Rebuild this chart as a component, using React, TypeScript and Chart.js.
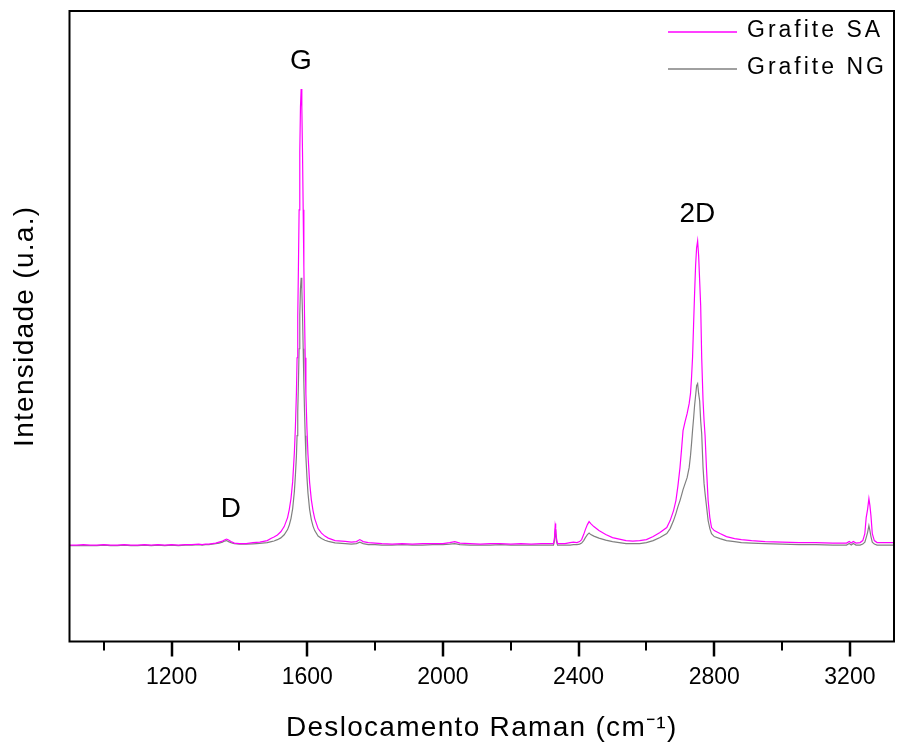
import React, { useEffect, useRef } from 'react';
import { Chart, registerables } from 'chart.js';

Chart.register(...registerables);

const FONT = "'Liberation Sans', Arial, sans-serif";

// Raman shift (cm-1)
const wavenumber = [
  899, 920, 940, 960, 980, 1000, 1020, 1040, 1060, 1080, 1100, 1120, 1140, 1160, 1180, 1200, 1220, 1240, 1260, 1280, 1290, 1300, 1310, 1320, 1330, 1340, 1350, 1356, 1362, 1368, 1375, 1385, 1400, 1420,
  1440, 1460, 1482, 1494, 1502, 1512, 1522, 1532, 1542, 1547, 1552, 1557, 1562, 1565, 1568, 1570, 1572, 1574, 1576, 1578, 1580, 1582, 1584, 1586, 1588, 1590, 1592, 1594, 1596, 1599, 1602, 1607, 1612, 1617, 1622, 1632, 1642, 1652, 1662, 1682, 1712, 1730, 1745, 1755, 1765, 1780, 1800,
  1820, 1850, 1880, 1910, 1940, 1970, 2000, 2020, 2035, 2050, 2080, 2110, 2140, 2170, 2200, 2230, 2260, 2290, 2315, 2326, 2329, 2331, 2332, 2333, 2335, 2338, 2360, 2375, 2385, 2395, 2403, 2409, 2415, 2420, 2426, 2431, 2436, 2445, 2460, 2480, 2500, 2520, 2540, 2560,
  2580, 2600, 2620, 2640, 2660, 2670, 2680, 2687, 2693, 2699, 2704, 2708, 2714, 2720, 2726, 2730, 2733, 2736, 2739, 2742, 2745, 2748, 2751, 2754, 2757, 2760, 2763, 2767, 2770, 2773, 2777, 2782, 2787, 2792, 2800, 2817, 2836, 2860, 2880, 2910, 2950,
  3000, 3050, 3100, 3150, 3190, 3198, 3204, 3210, 3218, 3230, 3238, 3244, 3248, 3252, 3256, 3259, 3262, 3266, 3272, 3280, 3300, 3330,
];

// Grafite SA intensity (u.a.)
const grafiteSA = [
  0.5, 0.5, 1, 0.5, 0.5, 1, 0.5, 0.5, 1, 0.5, 0.5, 1, 0.5, 1, 0.5, 1, 0.5, 1, 1, 1.5, 1, 1.5, 1.5, 2, 2.5, 3.5, 4.5, 5.5, 6.5, 5.5, 4, 2.5, 2, 2,
  3, 3.5, 5, 7.3, 8.5, 10.6, 13.8, 19, 28, 36, 47, 64, 93, 118, 152, 188, 229, 279, 336, 394, 439, 457, 439, 394, 336, 279, 229, 188, 152, 118, 92, 63, 46, 35, 27, 17, 12.5, 9.5, 7.5, 5, 4.2, 3.5, 4, 6, 4, 3, 2.5,
  2, 1.5, 2, 1.5, 2, 2, 2, 3, 4, 2.5, 2, 1.5, 2, 2, 1.5, 2, 1.5, 2, 2, 2, 8, 20, 22, 17, 7, 2, 2, 3, 3.5, 3, 4, 6, 11, 16, 21, 24, 22, 19, 15, 11, 8, 6.5, 5, 4.5,
  5, 6, 9, 13, 18, 25, 35, 45, 60, 78, 98, 115, 124, 132, 142, 152, 168, 188, 220, 252, 280, 298, 305, 290, 265, 240, 188, 145, 125, 110, 78, 45, 28, 18, 15, 12, 9, 7, 6, 5, 4,
  3.5, 3, 3, 2.5, 2.5, 4, 2.5, 4, 2.5, 3, 5, 12, 28, 36, 47, 40, 30, 12, 5, 3, 3, 3,
];

// Grafite NG intensity (u.a.)
const grafiteNG = [
  0, 0, 0, 0, 0, 0.5, 0, 0, 0.5, 0, 0, 0.5, 0, 0.5, 0, 0.5, 0, 0.5, 0.5, 1, 0.5, 1, 1, 1.5, 2, 2.5, 3.5, 4.5, 5, 4, 3, 2, 1.5, 1.5,
  1.8, 2.2, 3, 4, 4.6, 5.9, 7.7, 10.8, 16, 20.6, 27, 37, 54, 70, 89, 110, 134, 163, 197, 231, 257, 268, 257, 231, 197, 163, 134, 110, 89, 69, 53, 36, 26, 19.5, 15, 9.5, 7, 5.3, 4.2, 2.7, 2, 1.5, 2, 3.5, 2, 1, 1,
  0.5, 0.5, 1, 0.5, 0.5, 1, 1, 1.5, 2, 1, 0.5, 0.5, 0.5, 1, 0.5, 0.5, 0.5, 0.5, 0.5, 0.5, 5, 14, 16, 12, 4, 0.5, 0.5, 0.5, 1, 1, 1.5, 2.5, 5, 8, 11, 12.5, 11, 9.5, 7.5, 5.5, 4, 3, 2, 2,
  2, 3, 5, 8, 12, 17, 25, 32, 39, 45, 51, 56, 62, 68, 78, 90, 102, 115, 127, 140, 150, 160, 162, 152, 145, 125, 112, 78, 62, 52, 40, 25, 17, 12, 9, 7, 5, 4, 3, 2.5, 2,
  1.5, 1, 1, 0.5, 0.5, 2, 0.5, 2, 0.5, 0.5, 1.5, 3.5, 8, 13, 20, 15, 9, 3.5, 1.5, 0.5, 0.5, 0.5,
];

const seriesLabels = ['Grafite SA', 'Grafite NG'];
const seriesColors = ['#FF00FF', '#808080'];

// x-axis ticks: all tick marks, and the ones that carry a label
const xTickValues = [1000, 1200, 1400, 1600, 1800, 2000, 2200, 2400, 2600, 2800, 3000, 3200];
const xTickLabels = ['1200', '1600', '2000', '2400', '2800', '3200'];

// Band labels and where they sit (Raman shift, intensity)
const peakLabels = ['D', 'G', '2D'];
const peakLabelX = [1375, 1581, 2750];
const peakLabelY = [36, 485, 332];

const X_MIN = 899;
const X_MAX = 3330;
const Y_MIN = -96;
const Y_MAX = 535;

const decorPlugin = {
  id: 'decor',
  beforeDraw(chart: any) {
    (chart.ctx as any).letterSpacing = '1.3px';
  },
  beforeDatasetsDraw(chart: any) {
    (chart.ctx as any).letterSpacing = '0px';
  },
  afterDraw(chart: any) {
    const { ctx, chartArea: a, scales } = chart;
    const xs = scales.x;
    const ys = scales.y;
    ctx.save();
    (ctx as any).letterSpacing = '0px';
    // frame
    ctx.strokeStyle = '#000';
    ctx.lineWidth = 2;
    ctx.strokeRect(a.left, a.top, a.right - a.left, a.bottom - a.top);
    // x tick marks
    xs.ticks.forEach((t: any) => {
      const px = Math.round(xs.getPixelForValue(t.value));
      const major = xTickLabels.includes(String(t.value));
      ctx.lineWidth = major ? 2.5 : 2;
      ctx.beginPath();
      ctx.moveTo(px, a.bottom);
      ctx.lineTo(px, a.bottom + (major ? 15 : 9));
      ctx.stroke();
    });
    // band labels
    ctx.fillStyle = '#000';
    ctx.font = `28px ${FONT}`;
    ctx.textAlign = 'center';
    ctx.textBaseline = 'middle';
    peakLabels.forEach((l, i) => {
      ctx.fillText(l, xs.getPixelForValue(peakLabelX[i]), ys.getPixelForValue(peakLabelY[i]));
    });
    // legend
    ctx.font = `23px ${FONT}`;
    ctx.textAlign = 'left';
    (ctx as any).letterSpacing = '3px';
    chart.data.datasets.forEach((ds: any, i: number) => {
      const ly = a.top + 21 + i * 37;
      ctx.strokeStyle = ds.borderColor;
      ctx.lineWidth = 1.5;
      ctx.beginPath();
      ctx.moveTo(a.right - 226, ly);
      ctx.lineTo(a.right - 157, ly);
      ctx.stroke();
      ctx.fillStyle = '#000';
      ctx.fillText(ds.label, a.right - 147, ly - 1.5);
    });
    ctx.restore();
  },
};

export default function App() {
  const ref = useRef<HTMLCanvasElement>(null);
  useEffect(() => {
    if (!ref.current) return;
    const chart = new Chart(ref.current, {
      type: 'line',
      data: {
        datasets: [grafiteSA, grafiteNG].map((vals, k) => ({
          label: seriesLabels[k],
          data: wavenumber.map((x, i) => ({ x, y: vals[i] })),
          borderColor: seriesColors[k],
          backgroundColor: seriesColors[k],
          borderWidth: 1.2,
          pointRadius: 0,
          fill: false,
          tension: 0,
        })),
      },
      options: {
        animation: false,
        responsive: false,
        maintainAspectRatio: false,
        layout: { padding: { top: 11, right: 3, left: 0, bottom: 0 } },
        plugins: { legend: { display: false }, tooltip: { enabled: false } },
        scales: {
          x: {
            type: 'linear',
            min: X_MIN,
            max: X_MAX,
            afterBuildTicks: (s: any) => { s.ticks = xTickValues.map((v) => ({ value: v })); },
            afterFit: (s: any) => { s.height = 107.5; s.paddingLeft = 0; s.paddingRight = 0; },
            grid: { display: false, drawTicks: false },
            border: { display: false },
            ticks: {
              autoSkip: false,
              maxRotation: 0,
              minRotation: 0,
              padding: 22,
              z: 1,
              color: '#000',
              font: { family: FONT, size: 23 },
              callback: (v: any) => (xTickLabels.includes(String(v)) ? String(v) : ''),
            },
            title: {
              display: true,
              text: 'Deslocamento Raman (cm⁻¹)',
              color: '#000',
              font: { family: FONT, size: 28 },
              padding: { top: 0, bottom: 4 },
            },
          },
          y: {
            min: Y_MIN,
            max: Y_MAX,
            afterFit: (s: any) => { s.width = 69.5; s.paddingTop = 0; s.paddingBottom = 0; },
            grid: { display: false, drawTicks: false },
            border: { display: false },
            ticks: { display: false },
            title: {
              display: true,
              text: 'Intensidade (u.a.)',
              color: '#000',
              font: { family: FONT, size: 28 },
              padding: { top: 8, bottom: 0 },
            },
          },
        },
      } as any,
      plugins: [decorPlugin],
    });
    return () => chart.destroy();
  }, []);
  return (
    <div style={{ position: 'fixed', left: 0, top: 0, width: 897, height: 749, background: '#fff' }}>
      <canvas ref={ref} width={897} height={749} />
    </div>
  );
}
